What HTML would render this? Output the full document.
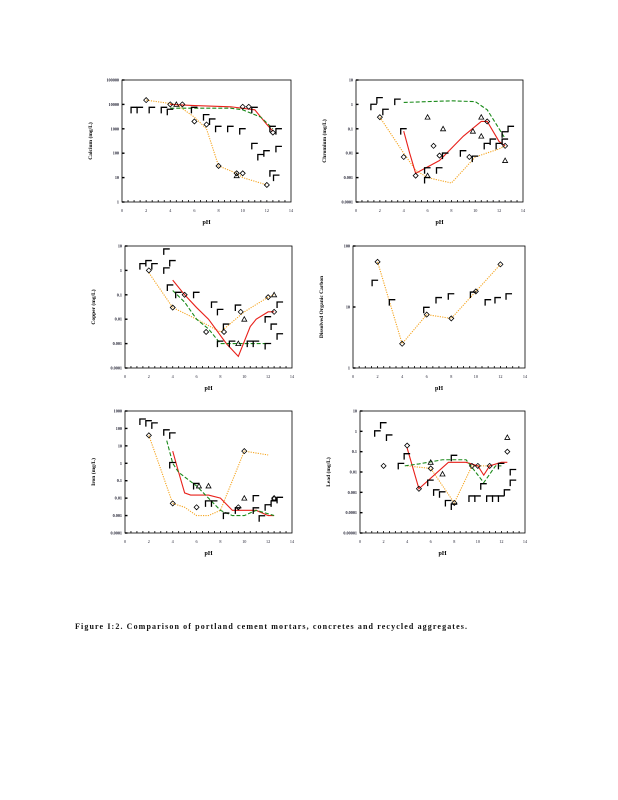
<!DOCTYPE html>
<html><head><meta charset="utf-8"><style>
html,body{margin:0;padding:0;background:#fff;}
svg{display:block;font-family:"Liberation Serif",serif;}
</style></head><body>
<svg id="fig" width="618" height="800" viewBox="0 0 618 800" xmlns="http://www.w3.org/2000/svg">
<text x="75" y="629" font-size="8" font-weight="bold" fill="#111" textLength="392" lengthAdjust="spacing">Figure I:2. Comparison of portland cement mortars, concretes and recycled aggregates.</text>
</svg>
<script>
// ---- data arrays (x = pH, y = concentration) ----
const xTicks=[0,2,4,6,8,10,12,14];
// Calcium
const caOrange=[[2,15000],[4.5,10000],[6,3000],[7,1000],[8,30],[9.5,15],[10,10],[12,5]];
const caRed=[[4,10000],[6,9000],[9,8000],[11,6000],[12,1500],[12.5,800]];
const caGreen=[[4,7000],[6,7000],[9,7000],[10,6000],[11.5,3000],[12.5,1000]];
const caBrackets=[[1,6000],[1.5,6000],[2.5,6000],[3.5,6000],[4,5000],[6,6000],[7,3000],[7.5,2000],[8,1000],[9,1000],[10,800],[11,6000],[11,200],[11.5,70],[12,100],[12.5,1000],[13,800],[13,150],[12.5,15],[12.8,10]];
const caDiamonds=[[2,15000],[4,10000],[5,10000],[6,2000],[7,1500],[8,30],[9.5,15],[10,15],[12,5],[12.5,700],[10,8000],[10.5,8000]];
const caTriangles=[[9.5,12],[4.5,10000]];
// Chromium
const crOrange=[[2,0.3],[4,0.01],[5,0.002],[6,0.001],[8,0.0006],[10,0.007],[12,0.015],[12.5,0.02]];
const crRed=[[4,0.08],[4.5,0.01],[5,0.0015],[7,0.005],[9,0.05],[10.5,0.2],[11,0.2],[12,0.03],[12.5,0.02]];
const crGreen=[[4,1.2],[6,1.3],[8,1.4],[10,1.3],[11,0.6],[12,0.1],[12.5,0.04]];
const crBrackets=[[1.5,0.8],[2,1.5],[2.5,0.5],[3.5,1.3],[4,0.08],[6,0.002],[6,0.0008],[7,0.002],[7.5,0.008],[9,0.01],[10,0.006],[11,0.02],[11.5,0.03],[12,0.02],[12.5,0.06],[13,0.1],[12.5,0.03]];
const crDiamonds=[[2,0.3],[4,0.007],[5,0.0012],[6.5,0.02],[7,0.008],[9.5,0.007],[11,0.2],[12.5,0.02]];
const crTriangles=[[6,0.3],[7.3,0.1],[9.8,0.08],[10.5,0.3],[10.5,0.05],[12.5,0.005],[6,0.0012]];
// Copper
const cuOrange=[[2,0.8],[4,0.03],[6,0.01],[8,0.003],[10,0.02],[12,0.08],[12.5,0.1]];
const cuRed=[[4,0.4],[5,0.1],[6,0.03],[7,0.01],[8.5,0.001],[9.5,0.0003],[10.5,0.005],[11,0.01],[12,0.02],[12.5,0.02]];
const cuGreen=[[4,0.15],[5,0.05],[6,0.01],[7,0.004],[8,0.001],[10,0.001],[12,0.001]];
const cuBrackets=[[1.5,1.5],[2,2],[2.5,1.5],[3.5,6],[3.5,1],[4,2],[3.8,0.2],[4.5,0.1],[6,0.1],[7.5,0.04],[8,0.02],[8.5,0.005],[8,0.001],[9,0.001],[9.5,0.03],[10.5,0.001],[11,0.001],[12,0.0008],[12.5,0.005],[13,0.04],[13,0.002],[12,0.01]];
const cuDiamonds=[[2,1],[4,0.03],[5,0.1],[6.8,0.003],[8.3,0.003],[9.7,0.02],[12,0.08],[12.5,0.02]];
const cuTriangles=[[10,0.01],[12.5,0.1],[9.5,0.001]];
// Dissolved organic carbon
const docOrange=[[2,55],[4,2.5],[6,7.5],[8,6.5],[10,18],[12,50]];
const docBrackets=[[1.8,25],[3.2,12],[6,9],[7,13],[8,15],[9.8,16],[11,12],[11.8,13],[12.7,15]];
const docDiamonds=[[2,55],[4,2.5],[6,7.5],[8,6.5],[10,18],[12,50]];
// Iron
const feOrange=[[2,40],[4,0.005],[5,0.003],[6,0.001],[7,0.001],[8,0.002],[10,5],[12,3]];
const feRed=[[4,5],[4.5,0.3],[5,0.02],[5.5,0.015],[7,0.015],[8,0.01],[9,0.002],[10,0.002],[11,0.002],[12,0.001],[12.5,0.001]];
const feGreen=[[3.5,20],[4,1],[4.5,0.3],[6,0.05],[7,0.01],[8,0.002],[9,0.001],[10,0.001],[11,0.002],[12.5,0.001]];
const feBrackets=[[1.5,250],[2,200],[2.5,150],[3.5,60],[4,40],[4,0.8],[6,0.05],[7,0.005],[7.5,0.005],[8.5,0.001],[9.5,0.002],[11,0.002],[11,0.01],[12,0.003],[12.5,0.005],[13,0.008],[11.5,0.0007]];
const feDiamonds=[[2,40],[4,0.005],[6,0.003],[9.5,0.003],[10,5],[12.5,0.01]];
const feTriangles=[[6.2,0.05],[7,0.05],[10,0.01],[12.5,0.01]];
// Lead
const pbOrange=[[4,0.02],[6,0.015],[8,0.0003],[9.5,0.02],[11,0.02]];
const pbRed=[[4,0.15],[5,0.0015],[7.5,0.03],[9,0.03],[10,0.02],[10.5,0.007],[11,0.02],[12,0.03],[12.5,0.03]];
const pbGreen=[[3.8,0.02],[5,0.025],[7,0.04],[9,0.04],[10.5,0.003],[11.5,0.02],[12,0.02]];
const pbBrackets=[[1.5,0.8],[2,2],[2.5,0.5],[3.5,0.02],[4,0.06],[6,0.003],[6.5,0.001],[7,0.0008],[7.5,0.0003],[8,0.05],[8,0.0002],[9.5,0.0005],[10,0.0005],[11,0.0005],[11.5,0.0005],[12,0.0005],[12.5,0.001],[13,0.003],[13,0.01],[10.5,0.002],[12,0.02]];
const pbDiamonds=[[2,0.02],[4,0.2],[5,0.0015],[6,0.015],[8,0.0003],[9.5,0.02],[10,0.02],[11,0.02],[12.5,0.1]];
const pbTriangles=[[6,0.03],[12.5,0.5],[7,0.008]];

const panels=[
 {id:'calcium',x:122,y:80,w:169,h:122,lo:0,hi:5,yl:['Calcium','(mg/L)'],ticks:['1','10','100','1000','10000','100000'],
  lines:[[caOrange,'orange'],[caRed,'red'],[caGreen,'green']],br:caBrackets,di:caDiamonds,tr:caTriangles},
 {id:'chromium',x:356,y:80,w:167,h:122,lo:-4,hi:1,yl:['Chromium','(mg/L)'],ticks:['0.0001','0.001','0.01','0.1','1','10'],
  lines:[[crOrange,'orange'],[crRed,'red'],[crGreen,'green']],br:crBrackets,di:crDiamonds,tr:crTriangles},
 {id:'copper',x:125,y:246,w:167,h:122,lo:-4,hi:1,yl:['Copper','(mg/L)'],ticks:['0.0001','0.001','0.01','0.1','1','10'],
  lines:[[cuOrange,'orange'],[cuRed,'red'],[cuGreen,'green']],br:cuBrackets,di:cuDiamonds,tr:cuTriangles},
 {id:'doc',x:353,y:246,w:172,h:122,lo:0,hi:2,yl:['Dissolved','Organic','Carbon'],ticks:['1','10','100'],
  lines:[[docOrange,'orange']],br:docBrackets,di:docDiamonds,tr:[]},
 {id:'iron',x:125,y:411,w:167,h:122,lo:-4,hi:3,yl:['Iron','(mg/L)'],ticks:['0.0001','0.001','0.01','0.1','1','10','100','1000'],
  lines:[[feOrange,'orange'],[feRed,'red'],[feGreen,'green']],br:feBrackets,di:feDiamonds,tr:feTriangles},
 {id:'lead',x:360,y:411,w:165,h:122,lo:-5,hi:1,yl:['Lead','(mg/L)'],ticks:['0.00001','0.0001','0.001','0.01','0.1','1','10'],
  lines:[[pbOrange,'orange'],[pbRed,'red'],[pbGreen,'green']],br:pbBrackets,di:pbDiamonds,tr:pbTriangles}
];
const NS='http://www.w3.org/2000/svg';
const svg=document.getElementById('fig');
function mk(tag,attrs,parent){const e=document.createElementNS(NS,tag);for(const k in attrs)e.setAttribute(k,attrs[k]);parent.appendChild(e);return e;}
const styles={orange:{stroke:'#f5a623',dash:'1.2,1.2'},red:{stroke:'#e8201a',dash:''},green:{stroke:'#1a8a1a',dash:'4,2'}};
panels.forEach(p=>{
  const g=mk('g',{},svg);
  
  
  const sx=v=>p.x+v/14*p.w;
  const sy=v=>p.y+p.h-(Math.log10(v)-p.lo)/(p.hi-p.lo)*p.h;
  const fr=mk('rect',{x:p.x,y:p.y,width:p.w,height:p.h,fill:'none',stroke:'#000','stroke-width':0.8},g);
  
  
  const nd=p.hi-p.lo;
  for(let i=0;i<=nd;i++){
    const yy=p.y+p.h-i/nd*p.h;
    const t=mk('text',{x:p.x-3,y:yy+1.5,'font-size':4.2,'font-weight':'bold','text-anchor':'end',fill:'#223'},g);
    
    
    t.textContent=p.ticks[i];
    mk('line',{x1:p.x,x2:p.x+2.5,y1:yy,y2:yy,stroke:'#000','stroke-width':1.4},g);
  }
  xTicks.forEach(v=>{
    const t=mk('text',{x:sx(v),y:p.y+p.h+10,'font-size':4.2,'text-anchor':'middle',fill:'#223'},g);
    
    
    t.textContent=v;
  });
  for(let v=0.5;v<14;v+=0.5){mk('line',{x1:sx(v),x2:sx(v),y1:p.y+p.h-2,y2:p.y+p.h,stroke:'#000','stroke-width':0.8},g);}
  const xt=mk('text',{x:p.x+p.w/2,y:p.y+p.h+22,'font-size':6,'font-weight':'bold','text-anchor':'middle'},g);
  
  
  xt.textContent='pH';
  const yt=mk('text',{transform:`translate(${p.x-30},${p.y+p.h/2}) rotate(-90)`,'font-size':5.5,'font-weight':'bold','text-anchor':'middle'},g);
  
  
  yt.textContent=p.yl.join('      ');
  p.lines.forEach(([d,c])=>{
    const st=styles[c];
    const pl=mk('polyline',{points:d.map(q=>sx(q[0])+','+sy(q[1])).join(' '),fill:'none',stroke:st.stroke,'stroke-width':1.1,'stroke-dasharray':st.dash},g);
    
    
  });
  p.br.forEach(q=>{const x=sx(q[0]),y=sy(q[1]);
    const e=mk('path',{d:`M${x-3} ${y+3.5}V${y-2.5}H${x+3}`,fill:'none',stroke:'#000','stroke-width':1.3},g);
    
    });
  p.di.forEach(q=>{const x=sx(q[0]),y=sy(q[1]);
    const e=mk('path',{d:`M${x-2.5} ${y}L${x} ${y-2.5}L${x+2.5} ${y}L${x} ${y+2.5}Z`,fill:'none',stroke:'#000','stroke-width':0.8},g);
    
    });
  p.tr.forEach(q=>{const x=sx(q[0]),y=sy(q[1]);
    const e=mk('path',{d:`M${x-2.5} ${y+2}L${x} ${y-2.5}L${x+2.5} ${y+2}Z`,fill:'none',stroke:'#000','stroke-width':0.8},g);
    
    });
});
</script>
</body></html>
